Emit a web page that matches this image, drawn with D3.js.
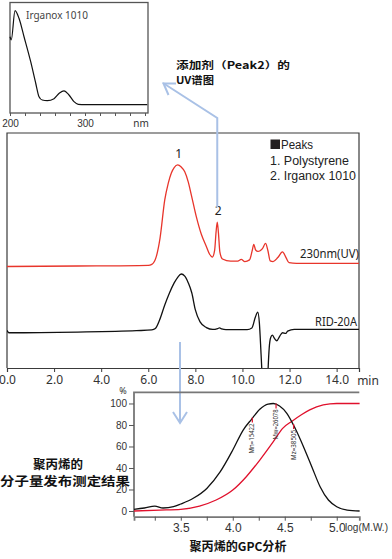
<!DOCTYPE html>
<html><head><meta charset="utf-8">
<script src="https://cdn.jsdelivr.net/npm/d3@7"></script>
<style>
body{margin:0;background:#fff;}
svg{display:block;font-family:"Noto Sans","Liberation Sans",sans-serif;}
</style></head>
<body><svg id="c" width="392" height="559"></svg>
<script>
// ---------- data ----------
const uvTime   = [0,3,6.0,6.15,6.34,6.5,6.7,6.85,6.98,7.1,7.25,7.4,7.55,7.7,7.83,8.04,8.25,8.47,8.6,8.72,8.82,8.88,8.93,8.98,9.04,9.15,9.5,9.8,9.95,10.1,10.3,10.42,10.48,10.56,10.66,10.75,10.85,10.98,11.08,11.18,11.3,11.5,11.7,11.85,11.98,12.3,14.95];
const uvSignal = [43.2,43.4,43.7,44.1,47.4,55.3,71.5,78.7,83.0,85.3,86.4,85.5,83.5,79.1,73.6,64.4,57.0,51.6,48.5,47.2,50.2,57.9,62.1,57.5,49.4,46.4,45.5,45.5,46.2,45.3,46.0,50.2,52.6,50.2,49.6,49.9,50.8,53.0,50.0,45.6,45.3,47.0,49.4,47.0,44.8,44.5,44.5];
const ridTime   = [0,0.08,3,5.5,6.15,6.3,6.48,6.7,6.9,7.1,7.25,7.4,7.55,7.7,7.85,8.0,8.2,8.47,8.74,8.95,9.03,9.12,9.3,10.2,10.4,10.55,10.65,10.72,10.78,10.84,10.9,10.96,11.02,11.08,11.14,11.2,11.27,11.36,11.46,11.58,11.7,11.84,11.92,12.2,14.95];
const ridSignal = [16.0,15.0,15.3,15.9,16.2,16.8,20.4,26.8,31.9,36.2,38.6,40.0,39.1,36.2,31.9,24.7,19.6,17.2,16.4,16.8,17.1,16.6,16.3,16.3,17.0,21.7,23.8,19.0,8.0,-5,-25,-32,-25,-3,9,13,14.0,12.6,11.6,13.5,15.0,14.7,15.7,16.4,16.4];
const timeTicks = [0,2,4,6,8,10,12,14];
const peakLabels = [{t:7.25,v:86.4,label:"1"},{t:8.93,v:62.1,label:"2"}];
const legendTitle = "Peaks";
const legendLines = ["1. Polystyrene","2. Irganox 1010"];

const specNm  = [200,201.7,206.7,212,218.7,227.6,234.3,238.7,243,249.7,258.7,266,272,278.7,285.3,291,300,383];
const specAbs = [0.687,0.658,0.922,0.853,0.687,0.462,0.268,0.147,0.117,0.111,0.129,0.18,0.2,0.162,0.102,0.078,0.075,0.075];
const specTicks = [200,220,240,260,280,300,320,340,360,380];
const specLabels = [200,300];

const gpcLogM = [3.05,3.15,3.25,3.33,3.43,3.5,3.62,3.75,3.88,4.0,4.1,4.18,4.26,4.34,4.39,4.45,4.52,4.6,4.68,4.76,4.84,4.92,5.0,5.1,5.22];
const gpcDiff = [1.6,2.8,4.6,2.8,4.0,6.5,11.8,21,36.6,56.7,75.3,85.3,94.6,99.5,100,97.7,90.9,76.9,59.8,41.2,22.6,10.2,4.0,0.9,0];
const cumLogM = [3.05,3.3,3.5,3.68,3.84,4.0,4.13,4.26,4.39,4.48,4.57,4.66,4.74,4.87,5.0,5.22];
const gpcCum  = [0,0.8,1.6,4.6,10.2,19.5,31.9,47.4,64.5,76.9,83.5,89.5,94,98.6,100,100];
const gpcXTicks = [3.25,3.5,3.75,4.0,4.25,4.5,4.75,5.0];
const gpcYTicks = [0,20,40,60,80,100];
const avgNames = ["Mn","Mw","Mz"];
const avgValues = [15422,26078,38505];

// ---------- drawing ----------
const svg = d3.select("#c");
const blue = "#a9c1e6", red = "#e8352b", frameCol = "#3a3a3a";

// main chromatogram
const x = d3.scaleLinear().domain([0,14.95]).range([7,359]);
const y = d3.scaleLinear().domain([0,100]).range([368,133]);
svg.append("clipPath").attr("id","mainClip").append("rect").attr("x",7).attr("y",133).attr("width",352).attr("height",235);

const main = svg.append("g");
main.append("path").attr("d",`M7,368V133H359V368`).attr("fill","none").attr("stroke",frameCol).attr("stroke-width",1.2);
const line = d3.line().x(d=>x(d[0])).y(d=>y(d[1])).curve(d3.curveMonotoneX);
const gLines = main.append("g").attr("clip-path","url(#mainClip)");
gLines.append("path").attr("d",line(uvTime.map((t,i)=>[t,uvSignal[i]]))).attr("fill","none").attr("stroke",red).attr("stroke-width",1.3);
gLines.append("path").attr("d",line(ridTime.map((t,i)=>[t,ridSignal[i]]))).attr("fill","none").attr("stroke","#111").attr("stroke-width",1.3);

const xAxis = main.append("g").attr("transform","translate(0,368)")
  .call(d3.axisBottom(x).tickValues(timeTicks).tickFormat(d3.format(".1f")).tickSize(4).tickPadding(3));
xAxis.select(".domain").attr("stroke",frameCol).attr("stroke-width",1.2);
xAxis.selectAll(".tick line").attr("stroke",frameCol);
xAxis.selectAll("text").attr("font-size",12).attr("fill","#333").attr("font-family","Noto Sans");
main.append("text").attr("x",368).attr("y",385).attr("text-anchor","middle").attr("font-size",12).attr("fill","#333").text("min");

peakLabels.forEach(p=>{
  main.append("text").attr("x",x(p.t)+1).attr("y",y(p.v)-7).attr("text-anchor","middle").attr("font-size",12).attr("fill","#222").text(p.label);
});
const lf = "'Liberation Sans', sans-serif";
main.append("rect").attr("x",270.5).attr("y",139.5).attr("width",9.5).attr("height",9.5).attr("fill","#221e1f");
main.append("text").attr("x",281).attr("y",149).attr("font-size",12.5).attr("font-family",lf).attr("fill","#222")
  .attr("textLength",32).attr("lengthAdjust","spacingAndGlyphs").text(legendTitle);
legendLines.forEach((s,i)=>{
  main.append("text").attr("x",270).attr("y",164.5+i*15).attr("font-size",12.5).attr("font-family",lf).attr("fill","#222")
    .attr("textLength", i==0?79:86).attr("lengthAdjust","spacingAndGlyphs").text(s);
});
main.append("text").attr("x",300).attr("y",258).attr("font-size",12).attr("fill","#222")
  .attr("textLength",59).attr("lengthAdjust","spacingAndGlyphs").text("230nm(UV)");
main.append("text").attr("x",315).attr("y",326).attr("font-size",12).attr("fill","#222")
  .attr("textLength",42).attr("lengthAdjust","spacingAndGlyphs").text("RID-20A");

// inset UV spectrum
const sx = d3.scaleLinear().domain([200,384]).range([10,148]);
const sy = d3.scaleLinear().domain([0,1]).range([113,2]);
const ins = svg.append("g");
ins.append("rect").attr("x",10).attr("y",2.5).attr("width",138).attr("height",110.5).attr("fill","none").attr("stroke","#555").attr("stroke-width",1.3);
ins.append("path").attr("d",d3.line().x(d=>sx(d[0])).y(d=>sy(d[1])).curve(d3.curveMonotoneX)(specNm.map((n,i)=>[n,specAbs[i]])))
  .attr("fill","none").attr("stroke","#111").attr("stroke-width",1.2);
const sAxis = ins.append("g").attr("transform","translate(0,113)")
  .call(d3.axisBottom(sx).tickValues(specTicks).tickSize(3).tickPadding(4).tickFormat(d=>specLabels.includes(d)?d:""));
sAxis.select(".domain").remove();
sAxis.selectAll(".tick line").attr("stroke","#555");
sAxis.selectAll("text").attr("font-size",10).attr("fill","#333");
ins.append("text").attr("x",141).attr("y",127).attr("text-anchor","middle").attr("font-size",10).attr("fill","#333").text("nm");
ins.append("text").attr("x",26).attr("y",19).attr("font-size",10).attr("fill","#444").text("Irganox 1010");

// blue arrows
svg.append("path").attr("d",`M${x(8.93)},207V118L163,83`).attr("fill","none").attr("stroke",blue).attr("stroke-width",2);
svg.append("path").attr("d",`M176,83.5H163.5L168.5,95`).attr("fill","none").attr("stroke",blue).attr("stroke-width",2);
svg.append("path").attr("d",`M180,342V423`).attr("fill","none").attr("stroke",blue).attr("stroke-width",2);
svg.append("path").attr("d",`M173,412L180,423L187,412`).attr("fill","none").attr("stroke",blue).attr("stroke-width",2);

// Chinese annotations
const cjk = "'Noto Sans CJK SC'";
svg.append("text").attr("x",176).attr("y",69).attr("font-size",10).attr("font-weight","bold").attr("font-family",cjk).attr("fill","#111")
  .attr("textLength",114).attr("lengthAdjust","spacingAndGlyphs").text("添加剂（Peak2）的");
svg.append("text").attr("x",176).attr("y",83.5).attr("font-size",10).attr("font-weight","bold").attr("font-family",cjk).attr("fill","#111")
  .attr("textLength",38).attr("lengthAdjust","spacingAndGlyphs").text("UV谱图");
svg.append("text").attr("x",58).attr("y",468.5).attr("text-anchor","middle").attr("font-size",12).attr("font-weight","bold").attr("font-family",cjk).attr("fill","#111")
  .attr("textLength",50).attr("lengthAdjust","spacingAndGlyphs").text("聚丙烯的");
svg.append("text").attr("x",65).attr("y",486).attr("text-anchor","middle").attr("font-size",12).attr("font-weight","bold").attr("font-family",cjk).attr("fill","#111")
  .attr("textLength",130).attr("lengthAdjust","spacingAndGlyphs").text("分子量发布测定结果");
svg.append("text").attr("x",238).attr("y",551).attr("text-anchor","middle").attr("font-size",12).attr("font-weight","bold").attr("font-family",cjk).attr("fill","#111")
  .attr("textLength",97).attr("lengthAdjust","spacingAndGlyphs").text("聚丙烯的GPC分析");

// GPC chart
const gx = d3.scaleLinear().domain([3.05,5.217]).range([134,359.3]);
const gy = d3.scaleLinear().domain([-5.3,110.4]).range([516.7,392.3]);
const gpc = svg.append("g");
gpc.append("path").attr("d",`M134,516.7V392.3H359.3`).attr("fill","none").attr("stroke","#777").attr("stroke-width",1.8);
const gline = d3.line().x(d=>gx(d[0])).y(d=>gy(d[1])).curve(d3.curveMonotoneX);
gpc.append("path").attr("d",gline(cumLogM.map((m,i)=>[m,gpcCum[i]]))).attr("fill","none").attr("stroke","#e0102c").attr("stroke-width",1.3);
gpc.append("path").attr("d",gline(gpcLogM.map((m,i)=>[m,gpcDiff[i]]))).attr("fill","none").attr("stroke","#111").attr("stroke-width",1.3);
const gxa = gpc.append("g").attr("transform","translate(0,516.7)")
  .call(d3.axisBottom(gx).tickValues(gpcXTicks).tickSize(4).tickPadding(3).tickFormat(d=>(d*2)%1===0?d3.format(".1f")(d):""));
gxa.select(".domain").attr("stroke","#777").attr("stroke-width",1.8);
gxa.selectAll(".tick line").attr("stroke","#555");
gxa.selectAll("text").attr("font-size",12).attr("fill","#333");
gpc.append("text").attr("x",345).attr("y",531).attr("font-size",10.5).attr("font-family",lf).attr("fill","#333")
  .attr("textLength",43).attr("lengthAdjust","spacingAndGlyphs").text("log(M.W.)");
const gya = gpc.append("g").attr("transform","translate(134,0)")
  .call(d3.axisLeft(gy).tickValues(gpcYTicks).tickSize(5).tickPadding(2));
gya.select(".domain").remove();
gya.selectAll(".tick line").attr("stroke","#555");
gya.selectAll("text").attr("font-size",10).attr("fill","#333");
gpc.append("text").attr("x",123).attr("y",394).attr("text-anchor","middle").attr("font-size",9).attr("fill","#333").text("%");

const tickTops = [87,100,81];
avgNames.forEach((n,i)=>{
  const lx = gx(Math.log10(avgValues[i]));
  const y0 = gy(tickTops[i]);
  gpc.append("line").attr("x1",lx).attr("x2",lx).attr("y1",y0).attr("y2",y0+5).attr("stroke","#e0102c").attr("stroke-width",1.2);
  gpc.append("text").attr("transform",`translate(${lx+2},${y0+6}) rotate(-90)`).attr("text-anchor","end")
    .attr("font-size",7).attr("fill","#333").attr("textLength",30).attr("lengthAdjust","spacingAndGlyphs").text(`${n}=${avgValues[i]}`);
});
</script></body></html>
